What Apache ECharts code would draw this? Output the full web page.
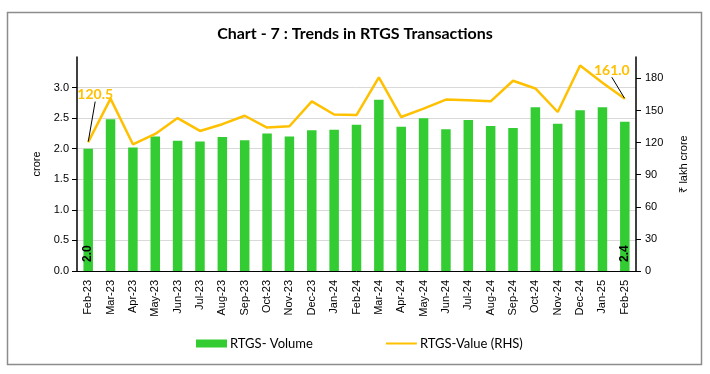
<!DOCTYPE html>
<html>
<head>
<meta charset="utf-8">
<script src="https://cdn.jsdelivr.net/npm/echarts@6/dist/echarts.min.js"></script>
<style>
html,body{margin:0;padding:0;background:#fff;}
#chart{width:710px;height:374px;}
</style>
</head>
<body>
<div id="chart"></div>
<script>
const categories = ['Feb-23','Mar-23','Apr-23','May-23','Jun-23','Jul-23','Aug-23','Sep-23','Oct-23','Nov-23','Dec-23','Jan-24','Feb-24','Mar-24','Apr-24','May-24','Jun-24','Jul-24','Aug-24','Sep-24','Oct-24','Nov-24','Dec-24','Jan-25','Feb-25'];
const volume = [2.0,2.48,2.02,2.2,2.13,2.12,2.19,2.14,2.25,2.2,2.3,2.31,2.39,2.8,2.36,2.5,2.32,2.47,2.37,2.34,2.68,2.41,2.63,2.68,2.44];
const value = [120.5,161.1,118.4,128.1,142.9,130.9,137.2,145.1,134.0,135.3,158.6,146.3,145.7,181.0,143.9,151.7,160.2,159.5,158.6,177.8,170.6,148.6,192.0,176.0,161.0];
const leftTicks = {min:0, max:3.5, interval:0.5};
const rightTicks = {min:0, max:200, interval:30};

const last = categories.length - 1;
const chart = echarts.init(document.getElementById('chart'));
const axisFont = {fontFamily:'Liberation Sans', fontSize:11, color:'#000'};
const valLabel = {show:true, position:'top', formatter:p=>p.value.toFixed(1), fontFamily:'Lato', fontWeight:'bold', fontSize:14, color:'#ffc000'};

chart.setOption({
  animation:false,
  textStyle:{fontFamily:'Liberation Sans'},
  title:{
    text:'Chart - 7 : Trends in RTGS Transactions',
    left:'center', top:21,
    textStyle:{fontFamily:'Lato', fontWeight:'bold', fontSize:16, color:'#000'}
  },
  graphic:[{type:'rect', shape:{x:7.5,y:12.5,width:694,height:352}, style:{fill:'none', stroke:'#8c8c8c', lineWidth:1.5}, silent:true}],
  legend:{
    bottom:19, left:191,
    itemWidth:31, itemHeight:8, itemGap:72,
    textStyle:{fontFamily:'Lato', fontSize:13, color:'#000', padding:[0,0,0,-2]},
    data:[{name:'RTGS- Volume', icon:'rect'},{name:'RTGS-Value (RHS)', itemStyle:{opacity:0}}]
  },
  grid:{left:77, right:74, top:57, bottom:103},
  xAxis:{
    type:'category', data:categories,
    axisLine:{lineStyle:{color:'#000', width:1}},
    axisTick:{show:false},
    axisLabel:Object.assign({rotate:90, interval:0, margin:9}, axisFont)
  },
  yAxis:[{
    type:'value', min:leftTicks.min, max:leftTicks.max, interval:leftTicks.interval,
    name:'crore', nameLocation:'middle', nameGap:33, nameRotate:90,
    nameTextStyle:{fontFamily:'Liberation Sans', fontSize:11, color:'#000'},
    axisLine:{show:true, lineStyle:{color:'#000', width:1.5}},
    axisTick:{show:true, length:5, lineStyle:{color:'#000'}},
    axisLabel:Object.assign({formatter:v=>v.toFixed(1), showMaxLabel:false, margin:8}, axisFont),
    splitLine:{show:true, showMaxLine:false, lineStyle:{color:'#d9d9d9', width:1}}
  },{
    type:'value', min:rightTicks.min, max:rightTicks.max, interval:rightTicks.interval,
    name:'₹ lakh crore', nameLocation:'middle', nameGap:42, nameRotate:90,
    nameTextStyle:{fontFamily:'Liberation Sans', fontSize:11, color:'#000'},
    axisLine:{show:true, lineStyle:{color:'#000', width:1.5}},
    axisTick:{show:true, length:5, lineStyle:{color:'#000'}},
    axisLabel:Object.assign({showMaxLabel:false, margin:9}, axisFont),
    splitLine:{show:false}
  }],
  series:[{
    name:'RTGS- Volume', type:'bar', yAxisIndex:0, barWidth:9.5,
    itemStyle:{color:'#33cc33'},
    data:volume.map((v,i)=>{
      if(i===0||i===last){
        return {value:v, label:{show:true, position:'insideBottom', rotate:90, align:'left', verticalAlign:'middle', distance:9,
          formatter:p=>p.value.toFixed(1), fontFamily:'Liberation Sans', fontWeight:'bold', fontSize:12, color:'#000'}};
      }
      return v;
    })
  },{
    name:'RTGS-Value (RHS)', type:'line', yAxisIndex:1, symbol:'none',
    lineStyle:{color:'#ffc000', width:2.5}, itemStyle:{color:'#ffc000'},
    labelLine:{show:true, lineStyle:{color:'#000', width:1}},
    labelLayout:function(p){
      if(p.dataIndex===0) return {dx:7, dy:-35};
      return {dx:-13, dy:-16};
    },
    data:value.map((v,i)=>{
      if(i===0||i===last){
        return {value:v, symbol:'circle', symbolSize:1, label:valLabel};
      }
      return v;
    })
  }]
});
</script>
</body>
</html>
